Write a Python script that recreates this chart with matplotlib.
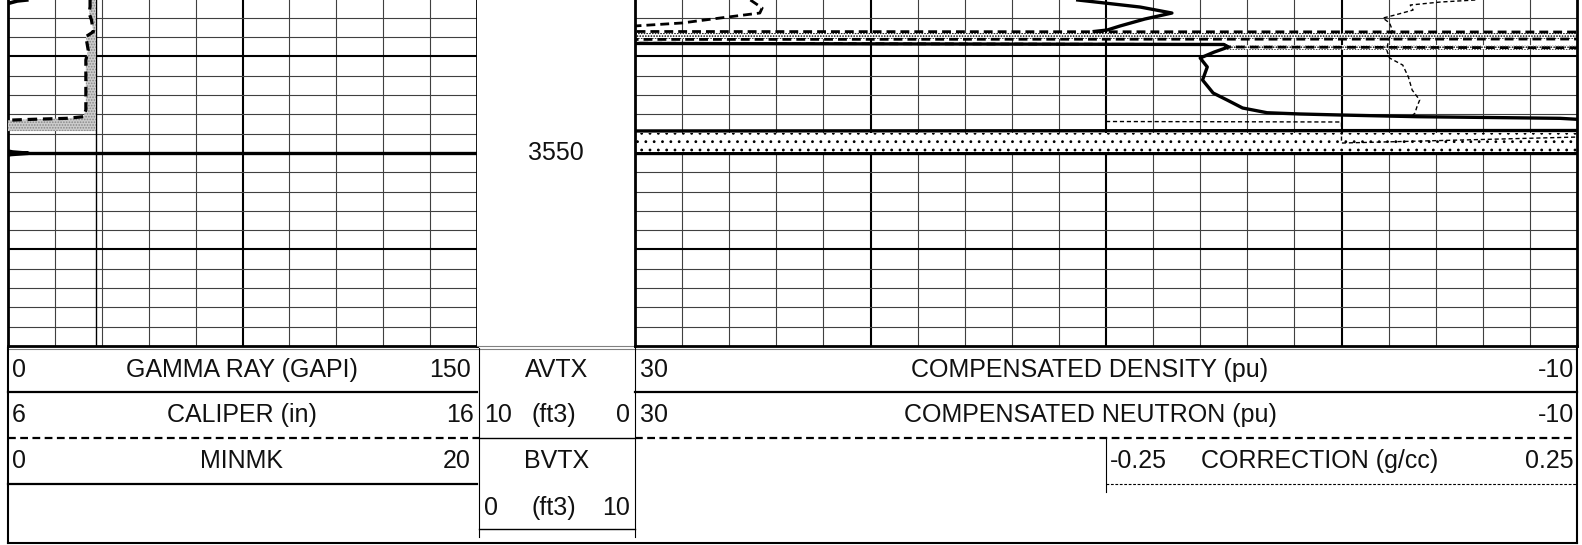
import numpy as np
import matplotlib
matplotlib.use("Agg")
import matplotlib.pyplot as plt

plt.rcParams['font.family'] = ['Liberation Sans', 'DejaVu Sans']
plt.rcParams['hatch.linewidth'] = 0.8

# ---- scales shown in the header ----
gr_scale = (0, 150)
cal_scale = (6, 16)
minmk_scale = (0, 20)
vtx_scale = (10, 0)
bvtx_scale = (0, 10)
por_scale = (30, -10)
corr_scale = (-0.25, 0.25)
bit_size = 7.875

top_depth = 3534.15
bottom_depth = 3570.0
depth_label = 3550

# ---- curves (depth in ft) ----
gr_depth = [3534.15, 3534.25, 3534.46, 3534.67, 3549.69, 3549.90, 3550.03, 3550.16, 3550.31]
gr_val = [6.0, 3.0, 0.6, -2.0, -2.0, 1.5, 6.5, 1.0, -2.0]

cal_depth = [3534.15, 3534.84, 3535.53, 3536.22, 3537.44, 3537.95, 3539.33, 3540.37,
             3542.44, 3545.55, 3546.24, 3546.41, 3546.51, 3546.59, 3546.69, 3547.73]
cal_val = [7.75, 7.75, 7.73, 7.78, 7.82, 7.66, 7.71, 7.66,
           7.66, 7.66, 7.61, 7.25, 6.54, 6.08, 5.8, 5.8]

den_depth = [3534.15, 3534.41, 3534.88, 3535.50, 3536.12, 3536.84, 3537.26, 3537.41, 3537.50,
             3538.61, 3538.76, 3539.02, 3539.54, 3540.16, 3541.09, 3542.44, 3543.79, 3544.51,
             3545.34, 3545.83, 3545.96, 3546.07, 3546.24, 3546.31, 3546.41, 3546.51, 3546.59,
             3547.67, 3547.73, 3549.90]
den_val = [11.2, 10.25, 8.55, 7.2, 8.35, 9.4, 9.95, 10.5, np.nan,
           40, 5.0, 4.8, 5.4, 6.0, 5.7, 5.9, 5.45, 4.86,
           4.2, 3.16, 1.76, -0.02, -3.2, -5.75, -9.28, -10.0, -12,
           -12, 40, 40]

neu_depth = [3534.15, 3534.98, 3535.50, 3536.02, 3536.53, 3536.84, 3537.05, 3537.41, 3537.47,
             3538.19, 3538.24, 3538.61, 3538.76, 3539.02, 3539.12, 3549.90]
neu_val = [25.1, 24.6, 24.7, 26.4, 28.0, 30.0, 33, 33, -13,
           -13, 33, 33, 5.0, 4.8, -13, -13]

corr_depth = [3534.15, 3534.36, 3534.67, 3535.19, 3535.70, 3536.02, 3536.53, 3537.26, 3538.30,
              3539.33, 3540.16, 3540.89, 3542.13, 3543.48, 3544.51, 3545.24, 3545.86, 3546.17,
              3546.40, 3546.74, 3546.79, 3548.97, 3548.66, 3548.35]
corr_val = [0.142, 0.105, 0.073, 0.076, 0.057, 0.044, 0.051, 0.054, 0.050,
            0.048, 0.051, 0.065, 0.071, 0.075, 0.083, 0.080, 0.078, 0.075,
            np.nan, -0.25, 0.0, 0.0, 0.126, 0.25]

# density / neutron crossover shading: top, base, left value, right value
xover_top = [3537.57, 3538.85, 3547.93]
xover_base = [3538.19, 3539.33, 3549.90]
xover_left = [30, 4.9, 30]
xover_right = [-10, -10, -10]
xover_hatch = ['......', '......', '..']

W, H = 1582, 545


def rect(x0, y0, x1, y1):
    return [x0 / W, 1 - y1 / H, (x1 - x0) / W, (y1 - y0) / H]


def depth_grid(ax):
    for d in np.arange(3536, bottom_depth, 2):
        if d % 50 == 0:
            ax.axhline(d, color='black', lw=2.4, zorder=1)
        elif d % 10 == 0:
            ax.axhline(d, color='black', lw=1.5, zorder=1)
        else:
            ax.axhline(d, color='#404040', lw=0.8, zorder=1)


def style_track(ax):
    ax.set_ylim(bottom_depth, top_depth)
    ax.set_xticks([])
    ax.set_yticks([])
    ax.spines['top'].set_visible(False)
    for s in ['left', 'right', 'bottom']:
        ax.spines[s].set_linewidth(2.0)


fig = plt.figure(figsize=(W / 100, H / 100), dpi=100)

# ---------------- track 1: GR / caliper ----------------
ax1 = fig.add_axes(rect(8, 0, 477, 346))
ax1.set_xlim(*gr_scale)
style_track(ax1)
for v in np.arange(15, 150, 15):
    ax1.axvline(v, color='black' if v == 75 else '#404040', lw=1.5 if v == 75 else 0.8, zorder=1)
depth_grid(ax1)
ax1.plot(gr_val, gr_depth, color='black', lw=2.6, zorder=4)

ax1c = ax1.twiny()
ax1c.set_xlim(*cal_scale)
ax1c.set_ylim(bottom_depth, top_depth)
ax1c.axis('off')
ax1c.axvline(bit_size, color='black', lw=1.0, zorder=2)
cal = np.array(cal_val)
ax1c.fill_betweenx(cal_depth, cal, bit_size, where=cal < bit_size, facecolor='#cccccc',
                   edgecolor='#888888', hatch='......', linewidth=0, zorder=2, interpolate=True)
ax1c.plot(cal_val, cal_depth, color='black', lw=2.3, dashes=(3.0, 1.8), zorder=4)

# ---------------- depth track ----------------
axd = fig.add_axes(rect(477, 0, 635, 346))
axd.set_ylim(bottom_depth, top_depth)
axd.set_xlim(0, 1)
axd.set_xticks([])
axd.set_yticks([])
for s in axd.spines.values():
    s.set_visible(False)
axd.spines['bottom'].set_visible(True)
axd.spines['bottom'].set_linewidth(0.8)
axd.spines['bottom'].set_color('#808080')
axd.text(0.5, depth_label, str(depth_label), ha='center', va='center', fontsize=18,
         color='#111111')

# ---------------- track 2: porosity ----------------
ax2 = fig.add_axes(rect(635, 0, 1577, 346))
ax2.set_xlim(*por_scale)
style_track(ax2)
for v in np.arange(28, -10, -2):
    major = v % 10 == 0
    ax2.axvline(v, color='black' if major else '#404040', lw=1.5 if major else 0.8, zorder=1)
depth_grid(ax2)
for t, b, l, r, h in zip(xover_top, xover_base, xover_left, xover_right, xover_hatch):
    ax2.fill_betweenx([t, b], l, r, facecolor='white', edgecolor='black', hatch=h,
                      linewidth=0, zorder=2)
ax2.plot(den_val, den_depth, color='black', lw=2.4, zorder=4)
ax2.plot(neu_val, neu_depth, color='black', lw=2.0, dashes=(3.2, 1.8), zorder=4)

ax2c = ax2.twiny()
ax2c.set_xlim(corr_scale[0] - (corr_scale[1] - corr_scale[0]), corr_scale[1])
ax2c.set_ylim(bottom_depth, top_depth)
ax2c.axis('off')
ax2c.plot(corr_val, corr_depth, color='black', lw=1.0, dashes=(3, 2), zorder=5)

# ---------------- header ----------------
hd = fig.add_axes(rect(0, 346, W, H))
hd.set_xlim(0, W)
hd.set_ylim(H, 346)
hd.axis('off')

hd.plot([8, 1577], [348.5, 348.5], color='#808080', lw=0.8)
hd.plot([8, 477], [392, 392], color='black', lw=1.6)
hd.plot([635, 1577], [392, 392], color='black', lw=1.6)
hd.plot([8, 479], [438, 438], color='black', lw=1.6, dashes=(3.5, 2))
hd.plot([635, 1577], [438, 438], color='black', lw=1.6, dashes=(3.5, 2))
hd.plot([479, 635], [438, 438], color='black', lw=1.0)
hd.plot([8, 477], [484, 484], color='black', lw=1.6)
hd.plot([1106, 1577], [484, 484], color='black', lw=0.8, dashes=(2.5, 1.5))
hd.plot([479, 635], [529, 529], color='black', lw=1.0)
hd.plot([8, 1577], [543, 543], color='black', lw=1.5)
hd.plot([8, 8], [348, 543], color='black', lw=1.5)
hd.plot([1577, 1577], [348, 543], color='black', lw=1.5)
hd.plot([479, 479], [348, 537], color='black', lw=0.8)
hd.plot([635, 635], [348, 537], color='black', lw=0.8)
hd.plot([1106, 1106], [438, 492], color='black', lw=0.8)

fs = 18
r1, r2, r3, r4 = 370, 415, 461, 508
labels = [
    (f'{gr_scale[0]}', 12, r1, 'left'), ('GAMMA RAY (GAPI)', 242, r1, 'center'), (f'{gr_scale[1]}', 471, r1, 'right'),
    (f'{cal_scale[0]}', 12, r2, 'left'), ('CALIPER (in)', 242, r2, 'center'), (f'{cal_scale[1]}', 474, r2, 'right'),
    (f'{minmk_scale[0]}', 12, r3, 'left'), ('MINMK', 242, r3, 'center'), (f'{minmk_scale[1]}', 471, r3, 'right'),
    ('AVTX', 557, r1, 'center'), (f'{vtx_scale[0]}', 484, r2, 'left'), ('(ft3)', 554, r2, 'center'),
    (f'{vtx_scale[1]}', 630, r2, 'right'),
    ('BVTX', 557, r3, 'center'), (f'{bvtx_scale[0]}', 484, r4, 'left'), ('(ft3)', 554, r4, 'center'),
    (f'{bvtx_scale[1]}', 630, r4, 'right'),
    (f'{por_scale[0]}', 640, r1, 'left'), ('COMPENSATED DENSITY (pu)', 1090, r1, 'center'),
    (f'{por_scale[1]}', 1574, r1, 'right'),
    (f'{por_scale[0]}', 640, r2, 'left'), ('COMPENSATED NEUTRON (pu)', 1090, r2, 'center'),
    (f'{por_scale[1]}', 1574, r2, 'right'),
    (f'{corr_scale[0]}', 1110, r3, 'left'), ('CORRECTION (g/cc)', 1320, r3, 'center'),
    (f'{corr_scale[1]}', 1574, r3, 'right'),
]
for txt, x, y, ha in labels:
    hd.text(x, y, txt, ha=ha, va='center', fontsize=fs, color='#111111')

fig.savefig('out.png', dpi=100)
